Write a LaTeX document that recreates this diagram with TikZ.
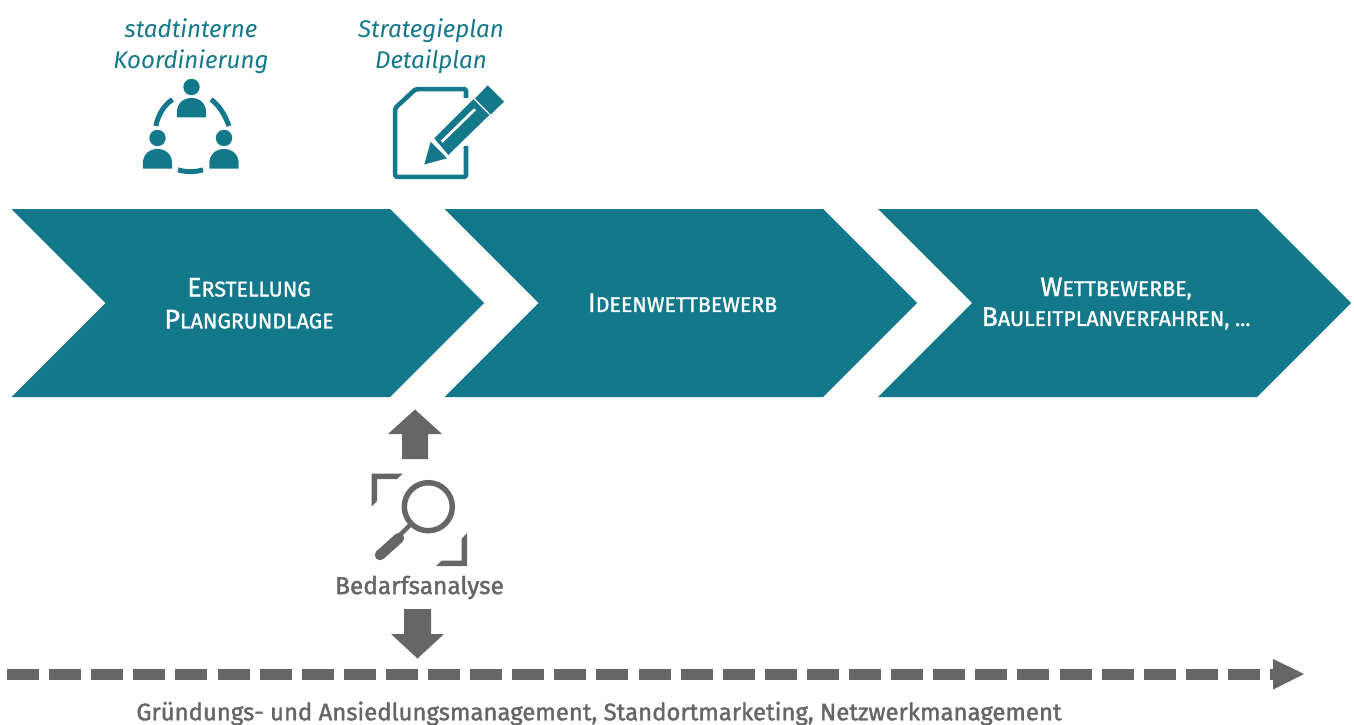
\documentclass[tikz,border=0pt]{standalone}
\usepackage{fontspec}
\setmainfont{Fira Sans}
\definecolor{teal1}{HTML}{13788A}
\definecolor{grey1}{HTML}{666666}
\newcommand{\SC}[2]{{\fontsize{27}{30}\selectfont #1}{\fontsize{21.4}{30}\selectfont #2}}
\tikzset{
  x=1bp,y=-1bp,
  chev/.style={fill=teal1,draw=none},
  ctext/.style={text=white,align=center,inner sep=0pt,font=\addfontfeature{FakeBold=1.2}\fontsize{21.4}{32}\selectfont},
  itext/.style={text=teal1,align=center,inner sep=0pt,font=\fontsize{24.2}{31}\selectfont\itshape},
  gtext/.style={text=grey1,inner sep=0pt,font=\addfontfeature{FakeBold=1.6}\fontsize{24}{28}\selectfont},
  gfill/.style={fill=grey1,draw=none},
  tfill/.style={fill=teal1,draw=none}
}
\begin{document}
\begin{tikzpicture}
\useasboundingbox (0,0) rectangle (1354,724);
% chevrons
\fill[chev] (11.5,209)--(390,209)--(484,303)--(390,397)--(11.5,397)--(105.5,303)--cycle;
\fill[chev] (444.5,209)--(823,209)--(917,303)--(823,397)--(444.5,397)--(538.5,303)--cycle;
\fill[chev] (878,209)--(1257,209)--(1351,303)--(1257,397)--(878,397)--(972,303)--cycle;
\node[ctext] (t1) at (249,303.3) {\SC{E}{RSTELLUNG}\\\SC{P}{LANGRUNDLAGE}};
\node[ctext] (t2) at (682.5,302.7) {\SC{I}{DEENWETTBEWERB}};
\node[ctext] (t3) at (1116,303.5) {\SC{W}{ETTBEWERBE,}\\[-2pt]\SC{B}{AULEITPLANVERFAHREN, ...}};
% top labels
\node[itext] (k) at (191,46) {stadtinterne\\Koordinierung};
\node[itext] (s) at (431,46) {Strategieplan\\Detailplan};
% people icon
\foreach \hx/\hy in {191.5/87,157.5/138,224/138}{
  \fill[tfill] (\hx,\hy) circle (8.2);
  \fill[tfill] (\hx-14.7,\hy+30.5) -- (\hx-14.7,\hy+26) .. controls (\hx-14.7,\hy+16) and (\hx-8,\hy+11) .. (\hx,\hy+11)
     .. controls (\hx+8,\hy+11) and (\hx+14.7,\hy+16) .. (\hx+14.7,\hy+26) -- (\hx+14.7,\hy+30.5) -- cycle;
}
\draw[teal1,line width=5] (172.5,99.5) .. controls (164,105) and (158,115) .. (155.8,126);
\draw[teal1,line width=5] (211,99.5) .. controls (219,105) and (225,115) .. (229,126);
\draw[teal1,line width=5] (178,169.8) .. controls (186,172.3) and (195,172.3) .. (203,169.8);
% document + pencil
\draw[teal1,line width=4.6,rounded corners=1.5] (466,98) -- (466,89.2) -- (415.5,89.2) -- (395.2,108) -- (395.2,176.8) -- (466,176.8) -- (466,146);
\fill[tfill] (424.3,164.5) -- (430.7,141.7) -- (447,158.3) -- cycle;
\fill[tfill] (434.3,138.3) -- (473.3,99.3) -- (489.3,115) -- (448.3,155) -- cycle;
\draw[white,line width=2.8] (441.7,141.7) -- (475,109.3);
\fill[tfill] (487.8,85.3) -- (504,101.7) -- (490.7,114.5) -- (475,98.5) -- cycle;
% up arrow
\fill[gfill] (402,459) -- (402,434) -- (388,434) -- (415,409.5) -- (442,434) -- (428,434) -- (428,459) -- cycle;
% magnifier
\fill[gfill] (371.7,473.5) -- (403,473.5) -- (397,479) -- (377,479) -- (377,501) -- (371.7,506.5) -- cycle;
\fill[gfill] (467,566) -- (436,566) -- (442,560.5) -- (461.5,560.5) -- (461.5,539) -- (467,533) -- cycle;
\draw[grey1,line width=5.5] (428.3,506.7) circle (24);
\draw[grey1,line width=4.5] (411,524) -- (398,537);
\draw[grey1,line width=10.5,line cap=round] (399,538) -- (380,555);
% label
\node[gtext,font=\addfontfeature{FakeBold=1.6}\fontsize{24.5}{28}\selectfont] (b) at (419.5,587.5) {Bedarfsanalyse};
% down arrow
\fill[gfill] (404,609) -- (431,609) -- (431,634) -- (444,634) -- (417.5,658.5) -- (391,634) -- (404,634) -- cycle;
% timeline
\coordinate (a0) at (7,674.5);
\coordinate (a1) at (1274,674.5);
\draw[grey1,line width=11,dash pattern=on 32bp off 10.1bp] (a0) -- (a1);
\fill[gfill] (1273,659) -- (1304,674) -- (1273,689.5) -- cycle;
\node[gtext] (g) at (599,713.5) {Gründungs- und Ansiedlungsmanagement, Standortmarketing, Netzwerkmanagement};
\end{tikzpicture}
\end{document}
